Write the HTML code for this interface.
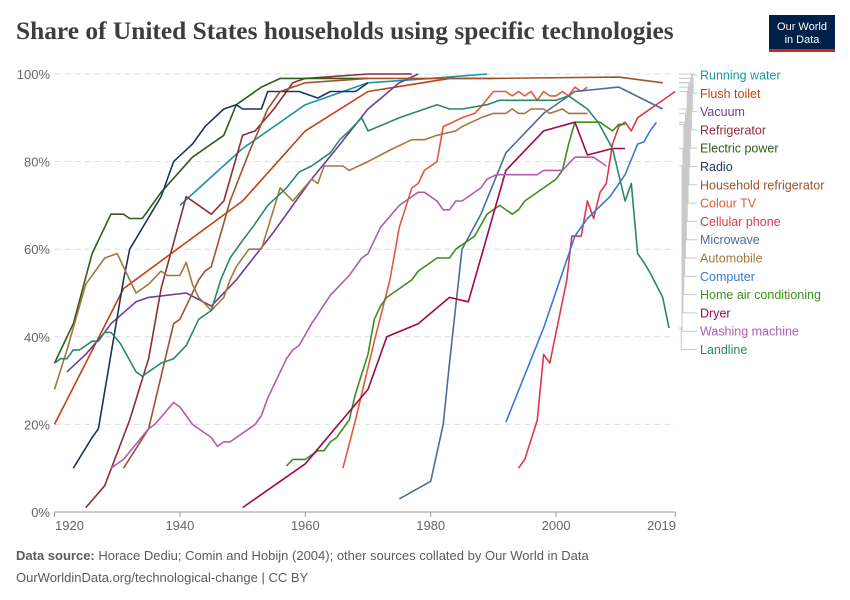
<!DOCTYPE html>
<html><head><meta charset="utf-8">
<style>
body{margin:0;background:#fff;}
#wrap{position:relative;width:850px;height:600px;font-family:"Liberation Sans",sans-serif;overflow:hidden;}
</style></head>
<body>
<div id="wrap">
<svg id="chart" width="850" height="600" xmlns="http://www.w3.org/2000/svg">
  <text x="16" y="39" font-family="Liberation Serif, serif" font-size="25.4" font-weight="bold" fill="#3d3d3d">Share of United States households using specific technologies</text>
  <g>
    <rect x="769" y="15" width="66" height="37" fill="#002147"/>
    <rect x="769" y="49" width="66" height="3" fill="#ce261e"/>
    <text x="802" y="30" font-size="11" fill="#fff" text-anchor="middle">Our World</text>
    <text x="802" y="43" font-size="11" fill="#fff" text-anchor="middle">in Data</text>
  </g>
  <g id="grid"></g>
  <g id="xaxis"></g>
  <g id="series"></g>
  <g id="legend"></g>
  <text x="16" y="560" font-size="13" fill="#5b5b5b"><tspan font-weight="bold">Data source:</tspan> Horace Dediu; Comin and Hobijn (2004); other sources collated by Our World in Data</text>
  <text x="16" y="582" font-size="13" fill="#5b5b5b">OurWorldinData.org/technological-change | CC BY</text>
</svg>
</div>
<script>
const yTicks=[0,20,40,60,80,100];
const xTicks=[1920,1940,1960,1980,2000,2019];
const seriesNames=["Running water","Flush toilet","Vacuum","Refrigerator","Electric power","Radio","Household refrigerator","Colour TV","Cellular phone","Microwave","Automobile","Computer","Home air conditioning","Dryer","Washing machine","Landline"];
const runningWater=[[1940,70],[1950,83],[1960,93],[1970,98],[1980,99],[1989,100]];
const flushToilet=[[1920,20],[1931,51],[1950,71],[1960,87],[1970,96],[1983,99],[1990,99]];
const vacuum=[[1922,32],[1925,36],[1928,41],[1929,43],[1933,48],[1935,49],[1941,50],[1945,47],[1949,53],[1955,64],[1961,76],[1965,83],[1970,92],[1975,98],[1978,100]];
const refrigerator=[[1925,1],[1928,6],[1932,21],[1935,35],[1937,51],[1941,72],[1945,68],[1947,71],[1950,86],[1952,87],[1955,92],[1958,98],[1960,99],[1970,100],[1977,100]];
const electricPower=[[1920,34],[1923,43],[1926,59],[1929,68],[1931,68],[1932,67],[1934,67],[1937,73],[1942,81],[1947,86],[1949,93],[1953,97],[1956,99],[1970,99]];
const radio=[[1923,10],[1926,17],[1927,19],[1931,53],[1932,60],[1937,72],[1939,80],[1942,84],[1944,88],[1947,92],[1949,93],[1950,92],[1953,92],[1954,96],[1959,96],[1961,95],[1962,94.5],[1964,96],[1968,96],[1970,98]];
const householdRefrigerator=[[1931,10],[1935,19],[1939,43],[1940,44],[1943,53],[1944,55],[1945,56],[1948,71],[1951,82],[1954,92],[1956,96],[1960,98],[1970,99],[1990,99],[2010,99.3],[2017,98]];
const colourTV=[[1966,10],[1968,21],[1971,39],[1973.5,53],[1975,65],[1977,74],[1978,75],[1979,78],[1981,80],[1982,88],[1985,90],[1987,91],[1988,92.5],[1990,96],[1992,96],[1993,95],[1994,96],[1995,95],[1996,96],[1997,94],[1998,96],[1999,95],[2000,95],[2001,96],[2002,95],[2003,97],[2004,96],[2005,97]];
const cellularPhone=[[1994,10],[1995,12],[1997,21],[1998,36],[1999,34],[2001.7,53],[2002.5,63],[2004,63],[2005,71],[2006,67],[2007,73],[2008,75],[2009,84],[2010,88],[2011,89],[2012,87],[2013,90],[2019,96]];
const microwave=[[1975,3],[1980,7],[1982,20],[1983,34],[1985,60],[1988,68],[1992,82],[1998,91],[2003,96],[2010,97],[2017,92]];
const automobile=[[1920,28],[1922,37],[1925,52],[1928,58],[1930,59],[1933,50],[1935,52],[1937,55],[1938,54],[1940,54],[1941,57],[1942,52],[1943,49],[1945,46],[1947,49],[1948,53],[1949,56],[1951,60],[1953,60],[1956,74],[1958,71],[1961,76],[1962,75],[1963,79],[1966,79],[1967,78],[1970,80],[1974,83],[1977,85],[1979,85],[1981,86],[1984,87],[1985,88],[1988,90],[1990,91],[1992,91],[1993,92],[1994,91],[1995,91],[1996,92],[1998,92],[1999,91],[2001,92],[2002,91],[2005,91]];
const computer=[[1992,20.5],[1998,42],[2003,63],[2005,67],[2008.6,72],[2011,77],[2013,84],[2014,84.5],[2015,87],[2016,89]];
const homeAirConditioning=[[1957,10.5],[1958,12],[1960,12],[1962,14],[1963,14],[1964,16],[1965,17],[1967,21],[1968,27],[1970,36],[1971,44],[1972,47],[1973,49],[1977,53],[1978,55],[1981,58],[1983,58],[1984,60],[1987,63],[1989,68],[1991,70],[1993,68],[1994,69],[1995,71],[2000,76],[2001,78],[2002,84],[2003,89],[2007,89],[2009,87],[2010,88.5],[2011,88.5]];
const dryer=[[1950,1],[1960,11],[1970,28],[1973,40],[1978,43],[1983,49],[1986,48],[1987,53],[1992,78],[1998,87],[2003,89],[2005,81.5],[2009,83],[2011,83]];
const washingMachine=[[1929,10],[1931,12],[1935,19],[1936,20],[1939,25],[1940,24],[1942,20],[1945,17],[1946,15],[1947,16],[1948,16],[1952,20],[1953,22],[1954,26],[1957,35],[1958,37],[1959,38],[1961,43],[1964,49.5],[1967,54],[1969,58],[1970,59],[1972,65],[1975,70],[1978,73],[1979,73],[1981,71],[1982,69],[1983,69],[1984,71],[1985,71],[1988,74],[1989,76],[1990.5,77],[1997,77],[1998,78],[2001,78],[2003,81],[2006,81],[2008,79]];
const landline=[[1920,34],[1921,35],[1922,35],[1923,37],[1924,37],[1926,39],[1927,39],[1928,41],[1929,41],[1930.5,38.5],[1933,32],[1934,31],[1937,34],[1939,35],[1941,38],[1943,44],[1945,46],[1946.5,53],[1948,58],[1950,62],[1951.6,65],[1954,70],[1957,74],[1959,77.6],[1961,79],[1964,82],[1965.5,85],[1967,87],[1969,90],[1970,87],[1975,90],[1981,93],[1983,92],[1985,92],[1989,93],[1991,94],[2000,94],[2002,95],[2005,92],[2006.7,89],[2009,83],[2011,71],[2012,75],[2013,59],[2014,57],[2015,54.6],[2017,49],[2018,42]];
const seriesData=[runningWater,flushToilet,vacuum,refrigerator,electricPower,radio,householdRefrigerator,colourTV,cellularPhone,microwave,automobile,computer,homeAirConditioning,dryer,washingMachine,landline];
const seriesColors=["#1896a4","#c2410f","#6d3e91","#8e2d34","#2f5d1b","#1a355f","#a0522d","#de5a3c","#e0364c","#4e6b9e","#a5773f","#3a7ad0","#3c8f1c","#a1074f","#b05cb0","#2a8868"];
const NS="http://www.w3.org/2000/svg";
function xScale(yr){return 54.5+(yr-1920)*6.27;}
function yScale(v){return 512-v*4.38;}
function mk(tag,attrs,parent){const e=document.createElementNS(NS,tag);for(const k in attrs)e.setAttribute(k,attrs[k]);parent.appendChild(e);return e;}
const grid=document.getElementById('grid');
yTicks.forEach(t=>{
  if(t>0){const l=mk('line',{x1:54.5,x2:675,y1:yScale(t),y2:yScale(t),stroke:'#dddddd','stroke-dasharray':'6,4'},grid);
  
  }
  const tx=mk('text',{x:50,y:yScale(t)+5,'text-anchor':'end','font-size':13,fill:'#666'},grid);
  tx.textContent=t+'%';
  
  
});
const xa=document.getElementById('xaxis');
const axl=mk('line',{x1:54.5,x2:675.5,y1:512,y2:512,stroke:'#999'},xa);


xTicks.forEach(t=>{
  const x=xScale(t);
  mk('line',{x1:x,x2:x,y1:512,y2:517,stroke:'#999'},xa);
  const tx=mk('text',{x:t===1920?55:(t===2019?676:x),y:530,'text-anchor':t===1920?'start':(t===2019?'end':'middle'),'font-size':13,fill:'#666'},xa);
  tx.textContent=t;
  
  
});
const sg=document.getElementById('series');
seriesData.forEach((d,i)=>{
  const p=mk('polyline',{points:d.map(q=>xScale(q[0]).toFixed(1)+','+yScale(q[1]).toFixed(1)).join(' '),fill:'none',stroke:seriesColors[i],'stroke-width':1.6,'stroke-linejoin':'round'},sg);
  
  
});
const lg=document.getElementById('legend');
seriesNames.forEach((n,i)=>{
  const ly=75+i*18.3;
  const last=seriesData[i][seriesData[i].length-1];
  const ey=yScale(last[1]);
  const vx=694-i*0.85;
  mk('polyline',{points:`679,${ey} ${vx},${ey} ${vx},${ly} 697,${ly}`,fill:'none',stroke:'#c8c8c8','stroke-width':1},lg);
  const t=mk('text',{x:700,y:ly+4.5,'font-size':12.5,fill:seriesColors[i]},lg);
  t.textContent=n;
  
  
});
</script>
</body></html>
